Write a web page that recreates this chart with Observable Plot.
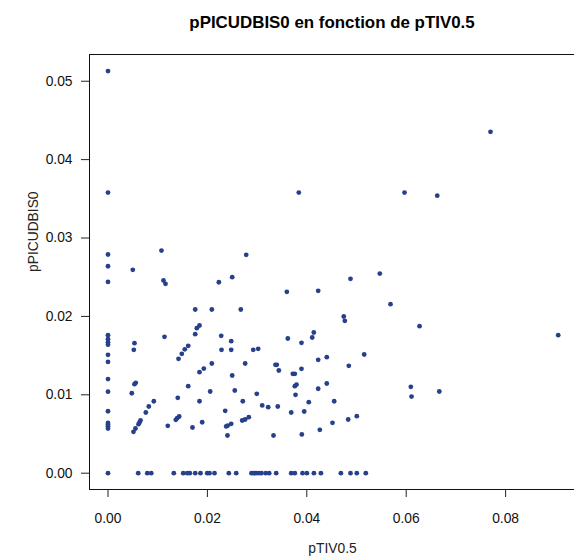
<!DOCTYPE html>
<html>
<head>
<meta charset="utf-8">
<script src="https://cdn.jsdelivr.net/npm/d3@7"></script>
<script src="https://cdn.jsdelivr.net/npm/@observablehq/plot@0.6"></script>
<style>
  html, body { margin: 0; padding: 0; background: #fff; }
  #wrap { width: 574px; height: 560px; position: relative; overflow: hidden; }
  #title {
    position: absolute; top: 0; left: 89px; width: 486px; height: 40px;
    text-align: center; line-height: 46px;
    font-family: "Liberation Sans", Arial, sans-serif; font-weight: bold; font-size: 16.9px; color: #000;
    white-space: nowrap;
  }
  #chart { position: absolute; top: 40px; left: 0; }
</style>
</head>
<body>
<div id="wrap">
  <div id="title">pPICUDBIS0 en fonction de pTIV0.5</div>
  <div id="chart"></div>
</div>
<script>
// x values (pTIV0.5)
const pTIV = [
  0, 0, 0, 0, 0, 0, 0, 0, 0, 0, 0, 0, 0, 0, 0, 0, 0, 0, 0,
  0.00499, 0.01076, 0.01117, 0.01157, 0.0223, 0.02499, 0.02781,
  0.01755, 0.02089, 0.02672, 0.01841, 0.01787, 0.01755,
  0.00533, 0.01137, 0.02278, 0.02479, 0.01614, 0.01545, 0.00519,
  0.01419, 0.01485, 0.02284, 0.02479, 0.02922, 0.03022,
  0.0276, 0.02089, 0.01928, 0.01841, 0.00559, 0.00533, 0.00479,
  0.01614, 0.02499, 0.02551, 0.02056, 0.01404, 0.01841, 0.02712,
  0.02994, 0.03103, 0.03223, 0.00922, 0.00821, 0.00761,
  0.00654, 0.00634, 0.00614, 0.00553, 0.00513, 0.01203,
  0.01364, 0.01392, 0.01433, 0.017, 0.01895, 0.02358, 0.02378, 0.0241,
  0.02479, 0.02404, 0.027, 0.0276, 0.02833,
  0.03598, 0.04229, 0.04879, 0.05469, 0.05684, 0.04744, 0.04765,
  0.06268, 0.04141, 0.04109, 0.03618, 0.03893,
  0.0337, 0.03396, 0.03437, 0.03718, 0.03759, 0.03893, 0.04229, 0.04402,
  0.05155, 0.04845, 0.03759, 0.03793, 0.03773, 0.04229, 0.04402,
  0.0404, 0.04551, 0.03416, 0.03686, 0.03948, 0.0333, 0.039,
  0.04262, 0.04517, 0.04833, 0.05006, 0.06093, 0.06107, 0.06666,
  0.09058, 0.03839, 0.05966, 0.06624, 0.07696,
  0.00608, 0.0079, 0.0087, 0.01324, 0.01513, 0.01594, 0.01646, 0.01755,
  0.01861, 0.01996, 0.02042, 0.02143, 0.02431, 0.0258, 0.02887, 0.02934,
  0.02982, 0.03035, 0.03089, 0.03175, 0.03243, 0.03384, 0.03686, 0.03759,
  0.03914, 0.04002, 0.04143, 0.04284, 0.04686, 0.04879, 0.05006, 0.05187
];
// y values (pPICUDBIS0)
const pPICUDBIS0 = [
  0.0513, 0.0358, 0.0279, 0.0264, 0.0244, 0.0176, 0.0171, 0.0167, 0.0164, 0.0151,
  0.0142, 0.0120, 0.0104, 0.0079, 0.0064, 0.0062, 0.0060, 0.0057, 0,
  0.02594, 0.0284, 0.02458, 0.02416, 0.02436, 0.0250, 0.02786,
  0.02088, 0.02088, 0.02088, 0.01884, 0.0185, 0.01773,
  0.01658, 0.0174, 0.01752, 0.01684, 0.01625, 0.0158, 0.01574,
  0.01459, 0.01523, 0.01574, 0.01574, 0.01574, 0.01587,
  0.01399, 0.01399, 0.01335, 0.01288, 0.01153, 0.01135, 0.0102,
  0.0111, 0.01246, 0.01055, 0.01042, 0.00962, 0.00918, 0.00918,
  0.01013, 0.00864, 0.00842, 0.00918, 0.00851, 0.00774,
  0.00672, 0.00647, 0.00625, 0.0057, 0.00528, 0.00604,
  0.00681, 0.00702, 0.00723, 0.00583, 0.0065, 0.00796, 0.00596, 0.00608,
  0.0063, 0.00481, 0.00672, 0.00685, 0.00714,
  0.02314, 0.02326, 0.0248, 0.02547, 0.02156, 0.01999, 0.01944,
  0.01875, 0.01795, 0.01731, 0.01718, 0.01663,
  0.01383, 0.01383, 0.0131, 0.01268, 0.01268, 0.01332, 0.01446, 0.0148,
  0.01514, 0.0137, 0.0111, 0.01131, 0.0100, 0.01077, 0.01144,
  0.00906, 0.00918, 0.00851, 0.00774, 0.00787, 0.00481, 0.00494,
  0.00553, 0.00643, 0.00685, 0.00727, 0.01102, 0.00978, 0.01042,
  0.0176, 0.0358, 0.0358, 0.0354, 0.04355,
  0, 0, 0, 0, 0, 0, 0, 0,
  0, 0, 0, 0, 0, 0, 0, 0,
  0, 0, 0, 0, 0, 0, 0, 0,
  0, 0, 0, 0, 0, 0, 0, 0
];
const xTicks = [0, 0.02, 0.04, 0.06, 0.08];
const yTicks = [0, 0.01, 0.02, 0.03, 0.04, 0.05];
const xLabel = "pTIV0.5";
const yLabel = "pPICUDBIS0";

const points = pTIV.map((x, i) => ({x, y: pPICUDBIS0[i]}));
const font = "'Liberation Sans', Arial, sans-serif";

const chart = Plot.plot({
  width: 574,
  height: 520,
  marginTop: 14,
  marginLeft: 89,
  marginRight: -1,
  marginBottom: 71,
  style: {fontFamily: font, fontSize: "13.8px", color: "#111", background: "white"},
  x: {domain: [-0.00372, 0.09406]},
  y: {domain: [-0.00208, 0.05341]},
  marks: [
    Plot.frame({stroke: "#111"}),
    Plot.axisX({ticks: xTicks, tickSize: 8, tickPadding: 16, tickFormat: d3.format(".2f"), label: null, fontSize: 13.8, stroke: "#222"}),
    Plot.axisY({ticks: yTicks, tickSize: 8, tickPadding: 9, tickFormat: d3.format(".2f"), label: null, fontSize: 13.8, stroke: "#222"}),
    Plot.dot(points, {x: "x", y: "y", r: 2.4, fill: "#27408B", stroke: "none"}),
    Plot.text([xLabel], {text: d => d, frameAnchor: "bottom", dy: 63, fontSize: 13.8, fill: "#222"}),
    Plot.text([yLabel], {text: d => d, frameAnchor: "left", dx: -56, rotate: -90, fontSize: 13.8, fill: "#222"})
  ]
});
document.getElementById("chart").appendChild(chart);
</script>
</body>
</html>
